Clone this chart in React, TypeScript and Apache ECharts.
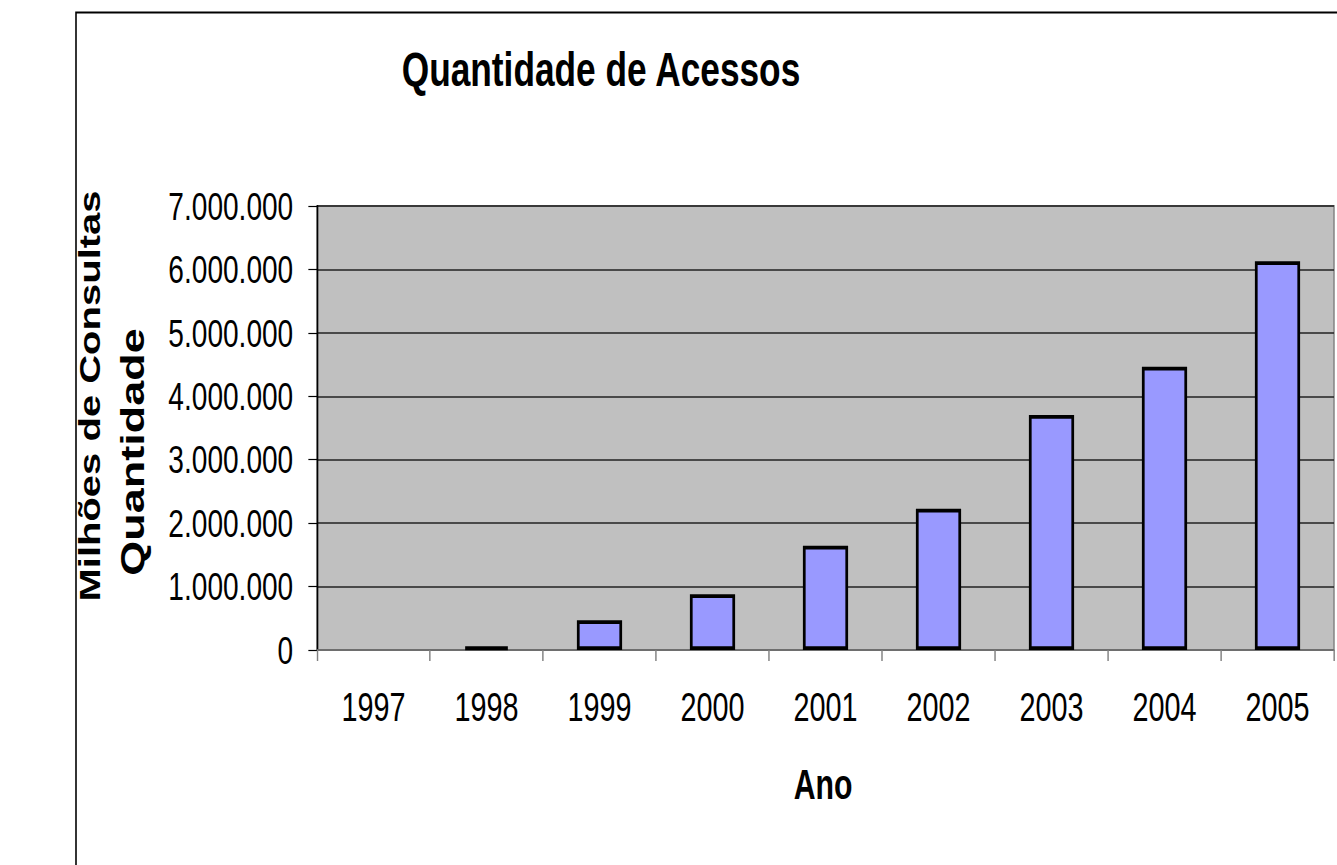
import React, { useEffect, useRef } from "react";
import * as echarts from "echarts";

const years: string[] = ["1997", "1998", "1999", "2000", "2001", "2002", "2003", "2004", "2005"];
const acessos: number[] = [0, 55000, 470000, 880000, 1645000, 2228000, 3705000, 4467000, 6128000];
const yTicks: number[] = [0, 1000000, 2000000, 3000000, 4000000, 5000000, 6000000, 7000000];

const titleText = "Quantidade de Acessos";
const yName = "Quantidade";
const xName = "Ano";
const outerName = "Milhões de Consultas";

const K = 0.72; // horizontal compression of the original picture
const PW = 1337;
const PH = 865;
const CW = Math.round(PW / K);
const FONT = "'Liberation Sans', Arial, Helvetica, sans-serif";

const fmt = (v: number) => String(Math.round(v)).replace(/\B(?=(\d{3})+(?!\d))/g, ".");

export default function App() {
  const ref = useRef<HTMLDivElement>(null);
  useEffect(() => {
    if (!ref.current) return;
    const chart = echarts.init(ref.current, undefined, { renderer: "svg" });
    const px = (x: number) => x / K;
    chart.setOption({
      animation: false,
      backgroundColor: "#ffffff",
      grid: {
        left: px(317),
        right: CW - px(1334),
        top: 206,
        bottom: PH - 650,
        show: true,
        backgroundColor: "#c0c0c0",
        borderColor: "#808080",
        borderWidth: 2,
        containLabel: false,
      },
      xAxis: {
        type: "category",
        data: years,
        boundaryGap: true,
        axisLine: { show: true, lineStyle: { color: "#808080", width: 1.5 } },
        axisTick: { show: true, interval: 0, alignWithLabel: false, length: 11, lineStyle: { color: "#808080", width: 2 } },
        axisLabel: { interval: 0, color: "#000", fontFamily: FONT, fontSize: 40, margin: 37 },
        splitLine: { show: false },
      },
      yAxis: {
        type: "value",
        min: yTicks[0],
        max: yTicks[yTicks.length - 1],
        interval: yTicks[1] - yTicks[0],
        axisLine: { show: true, lineStyle: { color: "#000", width: 2.2 } },
        axisTick: { show: true, inside: false, length: 12, lineStyle: { color: "#000", width: 1.2 } },
        axisLabel: { color: "#000", fontFamily: FONT, fontSize: 39, margin: 33, formatter: (v: number) => fmt(v) },
        splitLine: { show: true, lineStyle: { color: "#222", width: 1.5 } },
      },
      series: [
        {
          type: "bar",
          name: yName,
          barWidth: "40%",
          data: acessos.map((v) => ({
            value: v,
            itemStyle: v === 0 ? { borderWidth: 0 } : undefined,
          })),
          itemStyle: { color: "#9999ff", borderColor: "#000", borderWidth: 3.8 },
        },
      ],
      graphic: [
        {
          type: "rect",
          silent: true,
          shape: { x: px(76), y: 12.5, width: 4000, height: 4000 },
          style: { fill: "none", stroke: "#000", lineWidth: 2.2 },
          z: -1,
        },
        {
          type: "text",
          x: px(601),
          y: 69,
          style: { text: titleText, fontFamily: FONT, fontWeight: "bold", fontSize: 49, fill: "#000", textAlign: "center", textVerticalAlign: "middle" },
        },
        {
          type: "text",
          x: px(133),
          y: 452,
          rotation: Math.PI / 2,
          style: { text: yName, fontFamily: FONT, fontWeight: "bold", fontSize: 45, fill: "#000", textAlign: "center", textVerticalAlign: "middle" },
        },
        {
          type: "text",
          x: px(90),
          y: 396,
          rotation: Math.PI / 2,
          style: { text: outerName, fontFamily: FONT, fontWeight: "bold", fontSize: 40, fill: "#000", textAlign: "center", textVerticalAlign: "middle" },
        },
        {
          type: "text",
          x: px(823),
          y: 785,
          style: { text: xName, fontFamily: FONT, fontWeight: "bold", fontSize: 42, fill: "#000", textAlign: "center", textVerticalAlign: "middle" },
        },
      ],
    });
    return () => chart.dispose();
  }, []);
  return (
    <div style={{ position: "absolute", left: 0, top: 0, width: PW, height: PH, overflow: "hidden", background: "#fff" }}>
      <div
        ref={ref}
        style={{ width: CW, height: PH, transform: `scaleX(${K})`, transformOrigin: "0 0" }}
      />
    </div>
  );
}
